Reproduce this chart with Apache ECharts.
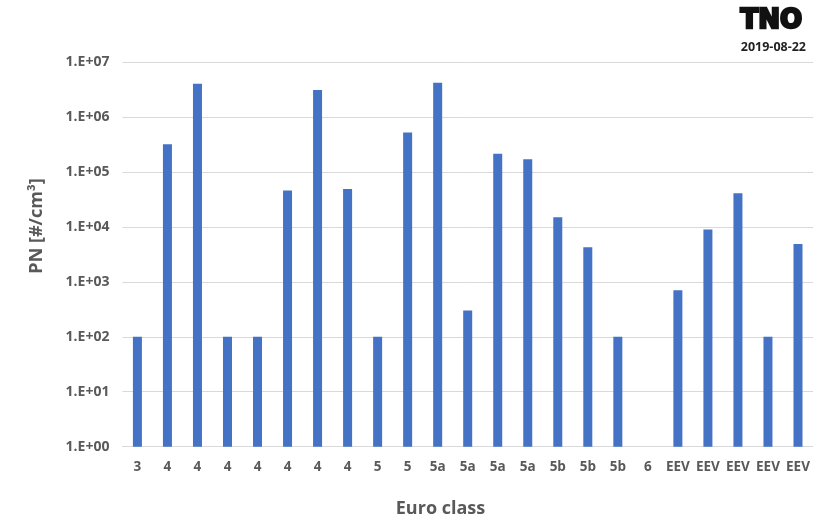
<!DOCTYPE html>
<html>
<head>
<meta charset="utf-8">
<script src="https://cdn.jsdelivr.net/npm/echarts@6/dist/echarts.min.js"></script>
<style>
  html, body { margin: 0; padding: 0; background: #fff; }
  #chart { width: 813px; height: 520px; }
</style>
</head>
<body>
<div id="chart"></div>
<script>
// Euro class of each measured vehicle
const categories = ['3', '4', '4', '4', '4', '4', '4', '4', '5', '5', '5a', '5a', '5a', '5a',
  '5b', '5b', '5b', '6', 'EEV', 'EEV', 'EEV', 'EEV', 'EEV'];

// Particle number concentration [#/cm3]; the Euro 6 vehicle has no bar above 1
const pnValues = [100, 3.2e5, 4.0e6, 100, 100, 4.6e4, 3.1e6, 4.9e4, 100, 5.2e5, 4.2e6, 300,
  2.15e5, 1.7e5, 1.5e4, 4.25e3, 100, null, 700, 9.0e3, 4.1e4, 100, 4.9e3];

// Labels for the decades 1e0 .. 1e7
const yTickLabels = ['1.E+00', '1.E+01', '1.E+02', '1.E+03', '1.E+04', '1.E+05', '1.E+06', '1.E+07'];

const gray = '#595959';
const font = '"Open Sans", "Liberation Sans", sans-serif';

const chart = echarts.init(document.getElementById('chart'), null, { renderer: 'canvas' });

chart.setOption({
  backgroundColor: '#ffffff',
  animation: false,
  grid: { left: 122.4, right: -3.6, top: 62, bottom: 73.3, containLabel: false },
  xAxis: {
    type: 'category',
    data: categories,
    axisLine: { show: true, lineStyle: { color: '#d9d9d9', width: 1 } },
    axisTick: { show: false },
    axisLabel: {
      color: gray, fontFamily: font, fontSize: 13.5, fontWeight: 'bold',
      margin: 13, interval: 0
    }
  },
  yAxis: {
    type: 'log',
    logBase: 10,
    min: 1,
    max: 1e7,
    axisLine: { show: false },
    axisTick: { show: false },
    splitLine: { show: true, lineStyle: { color: '#d9d9d9', width: 1 } },
    axisLabel: {
      color: gray, fontFamily: font, fontSize: 14, fontWeight: 'bold', margin: 13,
      formatter: function (v) {
        const i = Math.round(Math.log10(v));
        return yTickLabels[i];
      }
    }
  },
  series: [{
    type: 'bar',
    data: pnValues,
    barWidth: 9,
    itemStyle: { color: '#4472C4' }
  }],
  graphic: [
    {
      type: 'text',
      x: 37, y: 226,
      rotation: Math.PI / 2,
      style: {
        text: 'PN [#/cm³]',
        font: 'bold 18px ' + font,
        fill: gray,
        align: 'center',
        verticalAlign: 'middle'
      }
    },
    {
      type: 'text',
      x: 440.5, y: 509,
      style: {
        text: 'Euro class',
        font: 'bold 18px ' + font,
        fill: gray,
        align: 'center',
        verticalAlign: 'middle'
      }
    },
    {
      type: 'text',
      x: 802, y: 21,
      style: {
        text: 'TNO',
        font: '900 26px "DejaVu Sans", sans-serif',
        fill: '#111111',
        stroke: '#111111',
        lineWidth: 2.5,
        align: 'right',
        verticalAlign: 'middle'
      }
    },
    {
      type: 'text',
      x: 806, y: 47,
      style: {
        text: '2019-08-22',
        font: 'bold 12.5px ' + font,
        fill: '#222222',
        align: 'right',
        verticalAlign: 'middle'
      }
    }
  ]
});
</script>
</body>
</html>
